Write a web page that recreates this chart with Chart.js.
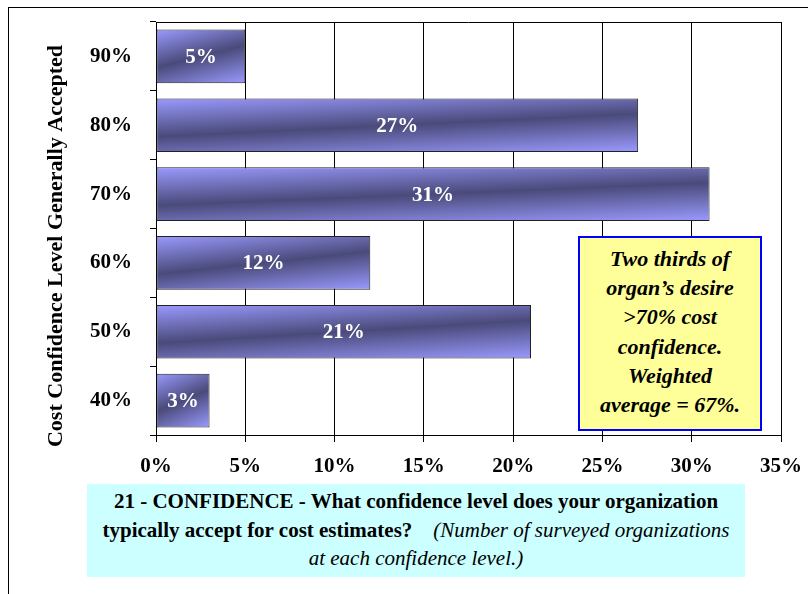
<!DOCTYPE html>
<html>
<head>
<meta charset="utf-8">
<script src="https://cdn.jsdelivr.net/npm/chart.js@4/dist/chart.umd.min.js"></script>
<style>
  body { margin: 0; background: #fff; }
  #wrap { position: relative; width: 808px; height: 594px; overflow: hidden; font-family: 'Liberation Serif', 'Times New Roman', serif; }
  #frame { position: absolute; left: 8px; top: 7px; right: -2px; bottom: -2px; border-top: 1px solid #000; border-left: 1px solid #000; }
  #chart { position: absolute; left: 0; top: 0; }
  .note {
    position: absolute; left: 578px; top: 236px; width: 180px; height: 185px;
    border: 2px solid #0000ff; background: #ffff99;
    text-align: center; font-weight: bold; font-style: italic; font-size: 22px; line-height: 29.2px;
    padding-top: 6px; box-sizing: content-box;
  }
  .caption {
    position: absolute; left: 87px; top: 484px; width: 658px; height: 93px;
    background: #ccffff; text-align: center; font-size: 21px; line-height: 28.5px;
    padding-top: 3px; box-sizing: border-box; white-space: nowrap;
  }
  .caption b { font-weight: bold; }
  .caption i { font-style: italic; }
</style>
</head>
<body>
<div id="wrap">
  <div id="frame"></div>
  <canvas id="chart" width="808" height="594"></canvas>
  <div class="note">Two thirds of<br>organ’s desire<br>&gt;70% cost<br>confidence.<br>Weighted<br>average = 67%.</div>
  <div class="caption">
    <b>21 - CONFIDENCE - What confidence level does your organization</b><br>
    <b>typically accept for cost estimates?</b>&nbsp;&nbsp;&nbsp;&nbsp;<i>(Number of surveyed organizations</i><br>
    <i>at each confidence level.)</i>
  </div>
</div>
<script>
const levels = ['90%', '80%', '70%', '60%', '50%', '40%'];
const shares = [5, 27, 31, 12, 21, 3];
const xTicks = [0, 5, 10, 15, 20, 25, 30, 35];
const yTitle = 'Cost Confidence Level Generally Accepted';

const SERIF = "'Liberation Serif', 'Times New Roman', serif";
const BAR_PCT = 0.78;
const LIGHT = '#9a9aff';
const DARK = '#4a4a7a';

// diagonal shading in each bar's own box: light at the corners, dark band through the middle
function barGradient(context) {
    const chart = context.chart;
    const area = chart.chartArea;
    if (!area) return LIGHT;
    const xs = chart.scales.x, ys = chart.scales.y;
    const x0 = xs.getPixelForValue(0);
    const x1 = xs.getPixelForValue(context.raw);
    const h = (area.bottom - area.top) / levels.length * BAR_PCT;
    const top = ys.getPixelForValue(context.dataIndex) - h / 2;
    const w = Math.max(x1 - x0, 1);
    const vx = 0.3 / w, vy = 0.7 / h;
    const n = vx * vx + vy * vy;
    const g = chart.ctx.createLinearGradient(x0, top, x0 + vx / n, top + vy / n);
    g.addColorStop(0, LIGHT);
    g.addColorStop(0.5, DARK);
    g.addColorStop(1, LIGHT);
    return g;
}

// keep the plot box fixed, no extra room for half tick labels
function noPad(scale) {
    scale.paddingLeft = scale.paddingRight = scale.paddingTop = scale.paddingBottom = 0;
}

// value labels in the bars, top edge of the plot, and the rotated axis title
const barLabels = {
    id: 'barLabels',
    afterDatasetsDraw(chart) {
        const ctx = chart.ctx;
        const meta = chart.getDatasetMeta(0);
        const a = chart.chartArea;
        ctx.save();
        ctx.fillStyle = '#fff';
        ctx.font = 'bold 21px ' + SERIF;
        ctx.textAlign = 'center';
        ctx.textBaseline = 'middle';
        meta.data.forEach((bar, i) => {
            ctx.fillText(shares[i] + '%', (bar.x + bar.base) / 2, bar.y + 1);
        });

        ctx.strokeStyle = '#000';
        ctx.lineWidth = 1;
        ctx.beginPath();
        ctx.moveTo(a.left, Math.round(a.top) + 0.5);
        ctx.lineTo(a.right, Math.round(a.top) + 0.5);
        ctx.stroke();

        // axis title sits a bit lower than the plot centre
        ctx.fillStyle = '#000';
        ctx.font = 'bold 22px ' + SERIF;
        ctx.translate(56, 246);
        ctx.rotate(-Math.PI / 2);
        ctx.fillText(yTitle, 0, 0);
        ctx.restore();
    }
};

new Chart(document.getElementById('chart'), {
    type: 'bar',
    data: {
        labels: levels,
        datasets: [{
            data: shares,
            backgroundColor: barGradient,
            borderColor: '#222',
            borderWidth: 1,
            borderSkipped: false,
            categoryPercentage: 1,
            barPercentage: BAR_PCT
        }]
    },
    options: {
        indexAxis: 'y',
        responsive: false,
        animation: false,
        layout: { padding: { left: 33, top: 22, right: 27, bottom: 114 } },
        plugins: {
            legend: { display: false },
            tooltip: { enabled: false }
        },
        scales: {
            x: {
                min: 0,
                max: 35,
                afterBuildTicks: (scale) => { scale.ticks = xTicks.map(v => ({ value: v })); },
                afterFit: (scale) => { scale.height = 45; noPad(scale); },
                grid: { color: '#000', lineWidth: 1, tickLength: 7 },
                border: { color: '#000', width: 1 },
                ticks: {
                    color: '#000',
                    padding: 12,
                    font: { family: SERIF, size: 21, weight: 'bold' },
                    callback: (v) => v + '%'
                }
            },
            y: {
                afterFit: (scale) => { scale.width = 123; noPad(scale); },
                grid: { offset: true, drawOnChartArea: false, color: '#000', tickLength: 6 },
                border: { color: '#000', width: 1 },
                ticks: {
                    color: '#000',
                    padding: 18,
                    font: { family: SERIF, size: 21, weight: 'bold' }
                }
            }
        }
    },
    plugins: [barLabels]
});
</script>
</body>
</html>
